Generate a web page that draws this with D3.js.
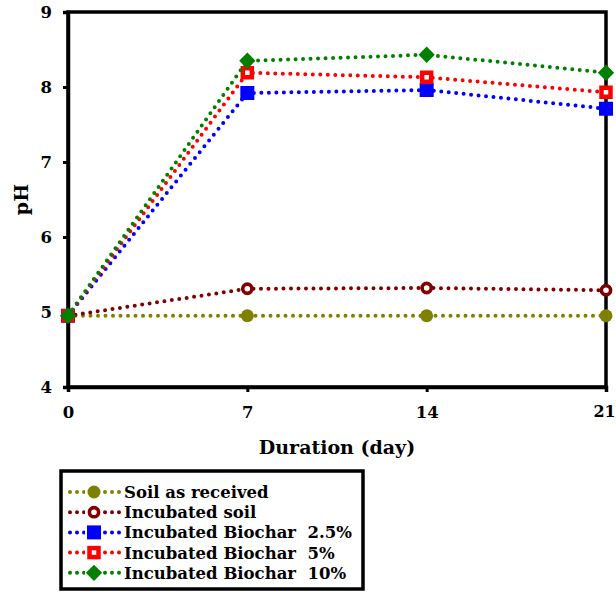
<!DOCTYPE html>
<html>
<head>
<meta charset="utf-8">
<script src="https://cdn.jsdelivr.net/npm/d3@7"></script>
<style>
  body { margin: 0; background: #fff; }
  text { font-family: "DejaVu Serif", Georgia, serif; font-weight: bold; fill: #000; }
</style>
</head>
<body>
<div id="chart"></div>
<script>
// duration in days
const days = [0, 7, 14, 21];
const yTicks = [4, 5, 6, 7, 8, 9];

const soilReceived = [4.95, 4.95, 4.95, 4.95];
const incubatedSoil = [4.95, 5.31, 5.32, 5.29];
const biochar25 = [4.95, 7.92, 7.96, 7.71];
const biochar5 = [4.95, 8.19, 8.13, 7.93];
const biochar10 = [4.95, 8.35, 8.43, 8.19];

const seriesNames = ['Soil as received', 'Incubated soil', 'Incubated Biochar  2.5%', 'Incubated Biochar  5%', 'Incubated Biochar  10%'];

const series = [
	{ name: seriesNames[0], values: soilReceived, color: '#808000', marker: 'circle' },
	{ name: seriesNames[1], values: incubatedSoil, color: '#800000', marker: 'ring' },
	{ name: seriesNames[2], values: biochar25, color: '#0000ff', marker: 'square' },
	{ name: seriesNames[3], values: biochar5, color: '#ff0000', marker: 'hollowSquare' },
	{ name: seriesNames[4], values: biochar10, color: '#008000', marker: 'diamond' }
];

let width = 616, height = 592;
let margin = { left: 68, right: 10, top: 12, bottom: 205 };

let svg = d3.select('#chart').append('svg')
	.attr('width', width)
	.attr('height', height);

let x = d3.scaleLinear().domain([0, 21]).range([margin.left, width - margin.right]);
let y = d3.scaleLinear().domain([4, 9]).range([height - margin.bottom, margin.top]);

// frame
svg.append('rect')
	.attr('x', x(0)).attr('y', y(9))
	.attr('width', x(21) - x(0)).attr('height', y(4) - y(9))
	.attr('fill', 'none').attr('stroke', '#000').attr('stroke-width', 3.5);

let xAxis = svg.append('g')
	.attr('transform', `translate(0, ${y(4)})`)
	.call(d3.axisBottom(x).tickValues(days).tickSize(5).tickPadding(14).tickFormat(d3.format('d')));
let yAxis = svg.append('g')
	.attr('transform', `translate(${x(0)}, 0)`)
	.call(d3.axisLeft(y).tickValues(yTicks).tickSize(5).tickPadding(11).tickFormat(d3.format('d')));

[xAxis, yAxis].forEach(g => {
	g.select('.domain').attr('stroke-width', 3.5);
	g.selectAll('.tick line').attr('stroke-width', 3);
	g.selectAll('.tick text').style('font-size', '16.5px').style('font-family', '"DejaVu Serif", serif').style('font-weight', 'bold');
});
// keep the last day label inside the window
xAxis.selectAll('.tick text').filter(d => d === 21).attr('dx', -2).style('font-size', '16px');

svg.append('text')
	.attr('x', (x(0) + x(21)) / 2).attr('y', 454)
	.attr('text-anchor', 'middle')
	.style('font-size', '19px')
	.text('Duration (day)');

svg.append('text')
	.attr('transform', `translate(28, ${(y(4) + y(9)) / 2}) rotate(-90)`)
	.attr('text-anchor', 'middle')
	.style('font-size', '19px')
	.text('pH');

function drawMarker(g, type, color, cx, cy) {
	if (type === 'circle') {
		g.append('circle').attr('cx', cx).attr('cy', cy).attr('r', 6.5).attr('fill', color);
	} else if (type === 'ring') {
		g.append('circle').attr('cx', cx).attr('cy', cy).attr('r', 4.6).attr('fill', '#fff')
			.attr('stroke', color).attr('stroke-width', 3.6);
	} else if (type === 'square') {
		g.append('rect').attr('x', cx - 7).attr('y', cy - 7).attr('width', 14).attr('height', 14).attr('fill', color);
	} else if (type === 'hollowSquare') {
		g.append('rect').attr('x', cx - 4.5).attr('y', cy - 4.5).attr('width', 9).attr('height', 9)
			.attr('fill', '#fff').attr('stroke', color).attr('stroke-width', 4.5);
	} else if (type === 'diamond') {
		g.append('path').attr('d', d3.symbol().type(d3.symbolDiamond2).size(170)())
			.attr('transform', `translate(${cx}, ${cy})`).attr('fill', color);
	}
}

let line = d3.line().x((d, i) => x(days[i])).y(d => y(d));

series.forEach(s => {
	let g = svg.append('g');
	g.append('path')
		.datum(s.values)
		.attr('d', line)
		.attr('fill', 'none')
		.attr('stroke', s.color)
		.attr('stroke-width', 4)
		.attr('stroke-linecap', 'round')
		.attr('stroke-dasharray', '0 7.5');
	s.values.forEach((v, i) => drawMarker(g, s.marker, s.color, x(days[i]), y(v)));
});

// legend
let legend = svg.append('g');
legend.append('rect')
	.attr('x', 61).attr('y', 471).attr('width', 302).attr('height', 118)
	.attr('fill', '#fff').attr('stroke', '#000').attr('stroke-width', 3.5);

series.forEach((s, i) => {
	let cy = 492 + i * 20.2;
	let g = legend.append('g');
	g.append('line')
		.attr('x1', 70).attr('x2', 120).attr('y1', cy).attr('y2', cy)
		.attr('stroke', s.color).attr('stroke-width', 4)
		.attr('stroke-linecap', 'round').attr('stroke-dasharray', '0 7');
	g.append('rect').attr('x', 85).attr('y', cy - 8).attr('width', 18).attr('height', 16).attr('fill', '#fff');
	drawMarker(g, s.marker, s.color, 94, cy);
	g.append('text')
		.attr('x', 124).attr('y', cy + 6)
		.attr('xml:space', 'preserve')
		.style('white-space', 'pre')
		.style('font-size', '16.5px')
		.text(s.name);
});
</script>
</body>
</html>
